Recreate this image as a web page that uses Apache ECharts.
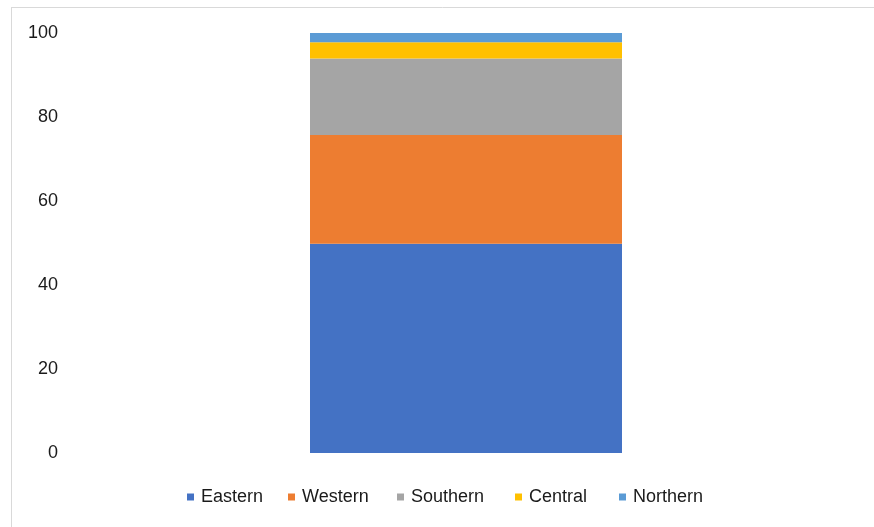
<!DOCTYPE html>
<html>
<head>
<meta charset="utf-8">
<script src="https://cdn.jsdelivr.net/npm/echarts@6/dist/echarts.min.js"></script>
<style>html,body{margin:0;padding:0;background:#fff}#c{width:874px;height:527px}</style>
</head>
<body>
<div id="c"></div>
<script>
const categories = ['Total'];
const seriesNames = ['Eastern', 'Western', 'Southern', 'Central', 'Northern'];
const eastern = [49.8];
const western = [25.9];
const southern = [18.2];
const central = [3.9];
const northern = [2.2];
const yTicks = [0, 20, 40, 60, 80, 100];

const colors = ['#4472C4', '#ED7D31', '#A5A5A5', '#FFC000', '#5B9BD5'];
const values = [eastern, western, southern, central, northern];
const legendLeft = [187, 288, 397, 515, 619];

const chart = echarts.init(document.getElementById('c'), null, {renderer: 'canvas'});
chart.setOption({
  animation: false,
  backgroundColor: '#fff',
  textStyle: {fontFamily: 'Liberation Sans, Arial, sans-serif'},
  grid: {left: 70, right: 12, top: 33, bottom: 74},
  xAxis: {
    type: 'category', data: categories,
    axisLine: {show: false}, axisTick: {show: false}, axisLabel: {show: false}
  },
  yAxis: {
    type: 'value', min: yTicks[0], max: yTicks[yTicks.length - 1], interval: 20,
    axisLine: {show: false}, axisTick: {show: false}, splitLine: {show: false},
    axisLabel: {margin: 12, fontSize: 18, color: '#1a1a1a', fontFamily: 'Liberation Sans, Arial, sans-serif'}
  },
  legend: seriesNames.map((n, i) => ({
    data: [n], left: legendLeft[i], top: 488, itemWidth: 7, itemHeight: 7, icon: 'rect',
    textStyle: {fontSize: 18, color: '#1a1a1a', fontFamily: 'Liberation Sans, Arial, sans-serif', padding: [0, 0, 0, 2]},
    selectedMode: false, padding: 0
  })),
  series: seriesNames.map((n, i) => ({
    name: n, type: 'bar', stack: 'total', data: values[i], barWidth: 312,
    itemStyle: {color: colors[i]}
  })),
  graphic: [
    {type: 'line', shape: {x1: 11, y1: 7.5, x2: 874, y2: 7.5}, style: {stroke: '#d9d9d9', lineWidth: 1}, silent: true},
    {type: 'line', shape: {x1: 11.5, y1: 7, x2: 11.5, y2: 527}, style: {stroke: '#d9d9d9', lineWidth: 1}, silent: true}
  ]
});
</script>
</body>
</html>
